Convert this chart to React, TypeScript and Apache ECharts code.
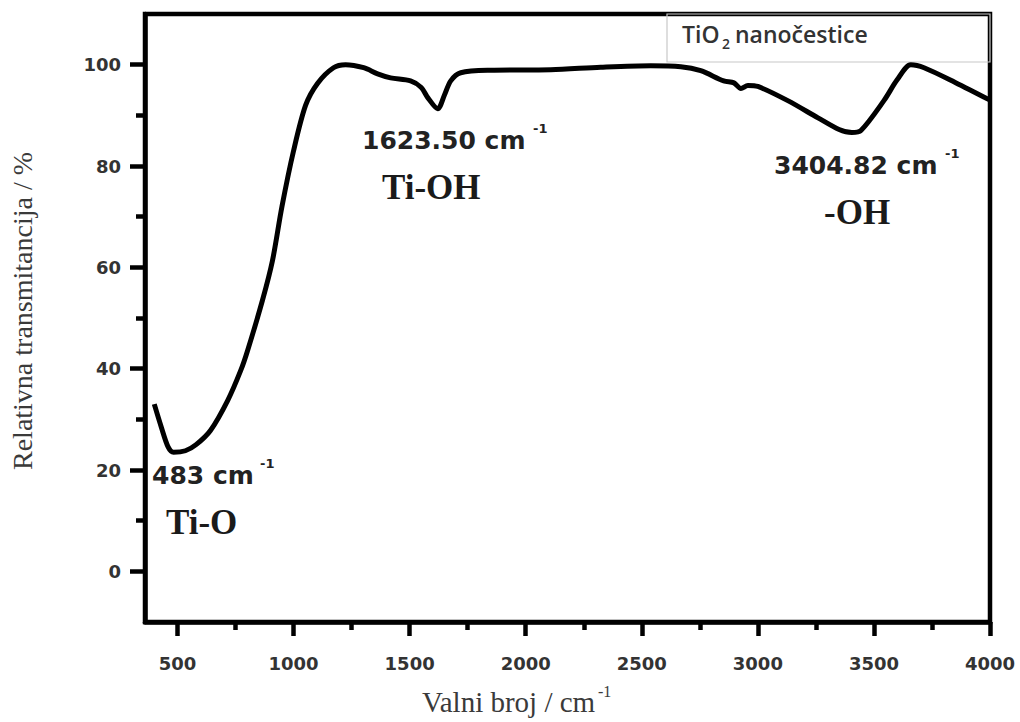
import React, { useEffect, useRef } from "react";
import * as echarts from "echarts";

const wavenumbers = [400, 430, 460, 483, 534, 580, 642, 716, 772, 802, 866, 909, 950, 1000, 1052, 1103, 1172, 1224, 1302, 1362, 1418, 1504, 1550, 1578, 1621, 1650, 1677, 1720, 1849, 2108, 2323, 2539, 2668, 2754, 2853, 2897, 2927, 2957, 3000, 3129, 3259, 3350, 3405, 3444, 3543, 3600, 3659, 3716, 3850, 4000];
const transmittance = [33.0, 28.5, 24.5, 23.5, 23.8, 25.0, 27.8, 33.7, 39.6, 43.6, 53.5, 61.3, 72.0, 83.0, 92.0, 96.3, 99.4, 100.0, 99.4, 98.2, 97.4, 96.8, 95.5, 93.5, 91.3, 94.0, 96.8, 98.4, 98.9, 99.0, 99.5, 99.8, 99.6, 98.8, 96.8, 96.4, 95.3, 95.9, 95.7, 92.9, 89.5, 87.2, 86.6, 87.0, 92.9, 97.0, 100.0, 99.4, 96.5, 93.0];

const xMajorTicks = [500, 1000, 1500, 2000, 2500, 3000, 3500, 4000];
const xMinorTicks = [750, 1250, 1750, 2250, 2750, 3250, 3750];
const yMajorTicks = [0, 20, 40, 60, 80, 100];
const yMinorTicks = [10, 30, 50, 70, 90];

const yTitle = "Relativna transmitancija / %";
const xTitle = "Valni broj / cm";
const legendLabel = "TiO";
const legendRest = " nanočestice";

const sans = "'DejaVu Sans', sans-serif";
const serif = "'Liberation Serif', 'Times New Roman', serif";

export default function App() {
  const ref = useRef<HTMLDivElement>(null);
  useEffect(() => {
    if (!ref.current) return;
    const chart = echarts.init(ref.current, null, { renderer: "svg" });
    const data = wavenumbers.map((w, i) => [w, transmittance[i]]);
    const tickLabel = {
      fontFamily: sans, fontWeight: "bold" as const, fontSize: 18, color: "#333",
      formatter: (v: number) => String(v),
    };
    const annMain = (x: number, y: number, text: string) => ({
      type: "text", left: x, top: y,
      style: { text, fontFamily: sans, fontWeight: "bold", fontSize: 25, fill: "#222" },
    });
    const annSup = (x: number, y: number) => ({
      type: "text", left: x, top: y,
      style: { text: "-1", fontFamily: sans, fontWeight: "bold", fontSize: 13, fill: "#222" },
    });
    const annName = (x: number, y: number, text: string) => ({
      type: "text", left: x, top: y,
      style: { text, fontFamily: serif, fontWeight: "bold", fontSize: 35, fill: "#1a1a1a" },
    });
    chart.setOption({
      animation: false,
      backgroundColor: "#fff",
      grid: { left: 145, right: 30, top: 14, bottom: 100, show: true, borderColor: "#000", borderWidth: 4.5, containLabel: false },
      xAxis: [
        {
          type: "value", min: 360, max: 4000, position: "bottom",
          axisLine: { show: true, onZero: false, lineStyle: { color: "#000", width: 4.5 } },
          axisTick: { show: true, customValues: xMajorTicks, length: 14, lineStyle: { color: "#000", width: 4.5 } },
          axisLabel: { show: true, customValues: xMajorTicks, margin: 32, ...tickLabel },
          splitLine: { show: false },
        },
        {
          type: "value", min: 360, max: 4000, position: "bottom",
          axisLine: { show: false, onZero: false },
          axisTick: { show: true, customValues: xMinorTicks, length: 8, lineStyle: { color: "#000", width: 4.5 } },
          axisLabel: { show: false },
          splitLine: { show: false },
        },
      ],
      yAxis: [
        {
          type: "value", min: -10, max: 110, position: "left",
          axisLine: { show: true, onZero: false, lineStyle: { color: "#000", width: 4.5 } },
          axisTick: { show: true, customValues: yMajorTicks, length: 15, lineStyle: { color: "#000", width: 4.5 } },
          axisLabel: { show: true, customValues: yMajorTicks, margin: 24, ...tickLabel },
          splitLine: { show: false },
        },
        {
          type: "value", min: -10, max: 110, position: "left",
          axisLine: { show: false, onZero: false },
          axisTick: { show: true, customValues: yMinorTicks, length: 9, lineStyle: { color: "#000", width: 4.5 } },
          axisLabel: { show: false },
          splitLine: { show: false },
        },
      ],
      series: [
        {
          type: "line", xAxisIndex: 0, yAxisIndex: 0, data, smooth: 0.3,
          showSymbol: false, symbol: "none",
          lineStyle: { color: "#000", width: 5 },
          z: 3,
        },
      ],
      graphic: [
        {
          type: "rect", shape: { x: 667, y: 14, width: 323, height: 48 },
          style: { fill: "none", stroke: "#c8c8c8", lineWidth: 1.2 }, z: 1,
        },
        {
          type: "text", left: 682, top: 22,
          style: { text: legendLabel, fontFamily: "'Open Sans', sans-serif", fontWeight: 600, fontSize: 23, fill: "#333" },
        },
        {
          type: "text", left: 722, top: 36,
          style: { text: "2", fontFamily: "'Open Sans', sans-serif", fontWeight: 600, fontSize: 14, fill: "#333" },
        },
        {
          type: "text", left: 729, top: 22,
          style: { text: legendRest, fontFamily: "'Open Sans', sans-serif", fontWeight: 600, fontSize: 23, fill: "#333" },
        },
        annMain(152, 463, "483 cm"),
        annSup(260, 457),
        annName(166, 505, "Ti-O"),
        annMain(362, 128, "1623.50 cm"),
        annSup(533, 122),
        annName(382, 170, "Ti-OH"),
        annMain(774, 153, "3404.82 cm"),
        annSup(945, 147),
        annName(824, 195, "-OH"),
        {
          type: "text", x: 22, y: 311, rotation: Math.PI / 2,
          style: { text: yTitle, fontFamily: serif, fontSize: 28, fill: "#3a3a3a", align: "center", verticalAlign: "middle" },
        },
        {
          type: "text", left: 422, top: 687,
          style: { text: xTitle, fontFamily: serif, fontSize: 29, fill: "#3a3a3a" },
        },
        {
          type: "text", left: 598, top: 683,
          style: { text: "-1", fontFamily: serif, fontSize: 16, fill: "#3a3a3a" },
        },
      ],
    });
    return () => chart.dispose();
  }, []);
  return <div ref={ref} style={{ position: "absolute", left: 0, top: 0, width: 1020, height: 722 }} />;
}
